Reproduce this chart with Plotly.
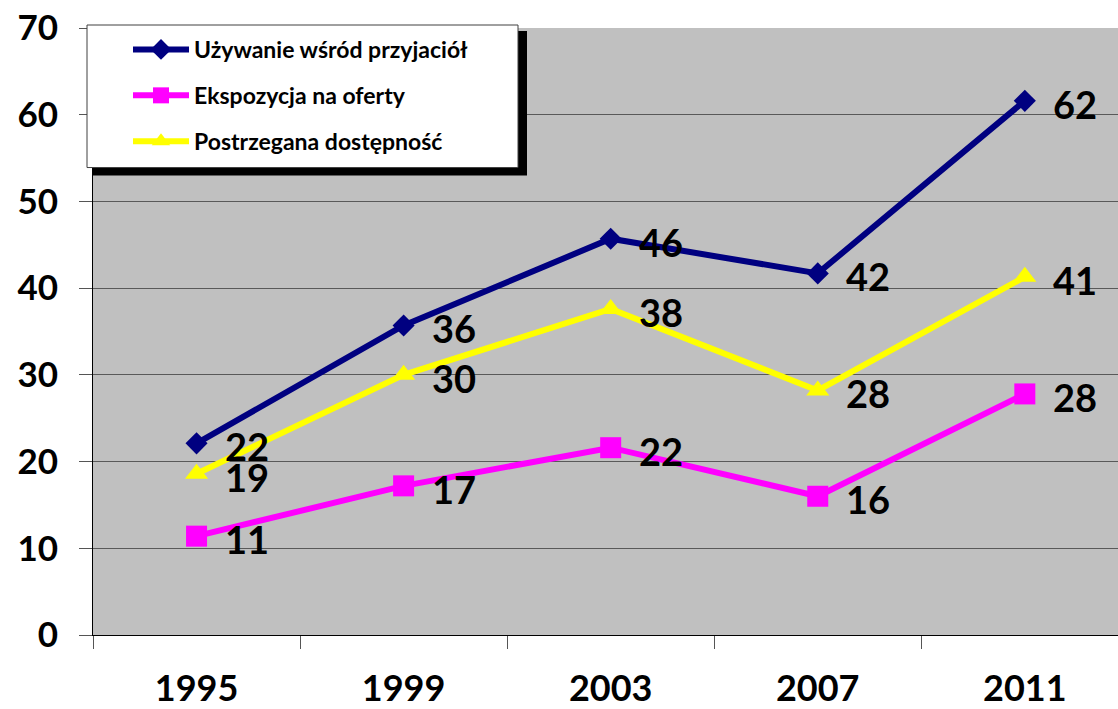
import plotly.graph_objects as go

years = ["1995", "1999", "2003", "2007", "2011"]
uzywanie = [22.1, 35.7, 45.7, 41.7, 61.6]
ekspozycja = [11.4, 17.2, 21.6, 16.0, 27.8]
dostepnosc = [18.6, 30.0, 37.6, 28.2, 41.3]

series = [
    ("Używanie wśród przyjaciół", uzywanie, "#000080", "diamond", 17),
    ("Ekspozycja na oferty", ekspozycja, "#FF00FF", "square", 21),
    ("Postrzegana dostępność", dostepnosc, "#FFFF00", "triangle-up", 20),
]

FONT = "Lato, 'DejaVu Sans', sans-serif"

fig = go.Figure()
annotations = []
for i, (name, vals, color, sym, msize) in enumerate(series):
    fig.add_trace(go.Scatter(
        x=years, y=vals, name=name, mode="lines+markers",
        line=dict(color=color, width=6),
        marker=dict(symbol=sym, size=msize, color=color, line=dict(width=0)),
        legendgroup=f"g{i}",
    ))
    for j, v in enumerate(vals):
        annotations.append(dict(
            x=j, y=v, xref="x", yref="y", text=f"<b>{round(v)}</b>",
            showarrow=False, xanchor="left", yanchor="middle",
            xshift=26, yshift=-3,
            font=dict(family=FONT, size=38, color="black"),
        ))

W, H = 1118, 709
L, R, T, B = 93, 0, 28, 72
pw, ph = W - L - R, H - T - B

def px(xp):
    return (xp - L) / pw

def py(yp):
    return (H - B - yp) / ph

shapes = [
    dict(type="rect", xref="paper", yref="paper",
         x0=px(93), x1=px(527), y0=py(176), y1=py(31),
         fillcolor="black", line=dict(width=0), layer="above"),
    dict(type="rect", xref="paper", yref="paper",
         x0=px(87), x1=px(518), y0=py(168), y1=py(25),
         fillcolor="white", line=dict(color="#404040", width=1), layer="above"),
]

fig.update_layout(
    width=W, height=H, autosize=False,
    margin=dict(l=L, r=R, t=T, b=B, pad=0),
    paper_bgcolor="white", plot_bgcolor="#C0C0C0",
    font=dict(family=FONT, color="black"),
    showlegend=True,
    legend=dict(
        x=px(128), y=py(28), xanchor="left", yanchor="top",
        bgcolor="rgba(0,0,0,0)", borderwidth=0,
        font=dict(family=FONT, size=23, color="black", weight="bold"),
        itemwidth=56, tracegroupgap=13,
    ),
    xaxis=dict(
        type="category", range=[-0.5, 4.45],
        showgrid=False, zeroline=False,
        showline=True, linecolor="black", linewidth=1,
        ticks="outside", tickson="boundaries", ticklen=13, tickcolor="#555555", tickwidth=1,
        tickfont=dict(family=FONT, size=36, color="black", weight="bold"),
        ticklabelstandoff=22,
    ),
    yaxis=dict(
        range=[0, 70], tickvals=[0, 10, 20, 30, 40, 50, 60, 70],
        showgrid=True, gridcolor="#595959", gridwidth=1, zeroline=False,
        showline=True, linecolor="black", linewidth=1,
        ticks="outside", ticklen=13, tickcolor="#555555", tickwidth=1,
        tickfont=dict(family=FONT, size=35, color="black", weight="bold"),
        ticklabelstandoff=14,
    ),
    annotations=annotations,
    shapes=shapes,
)

fig.write_html("out.html", config={"displayModeBar": False},
               post_script="document.body.style.margin='0';")
